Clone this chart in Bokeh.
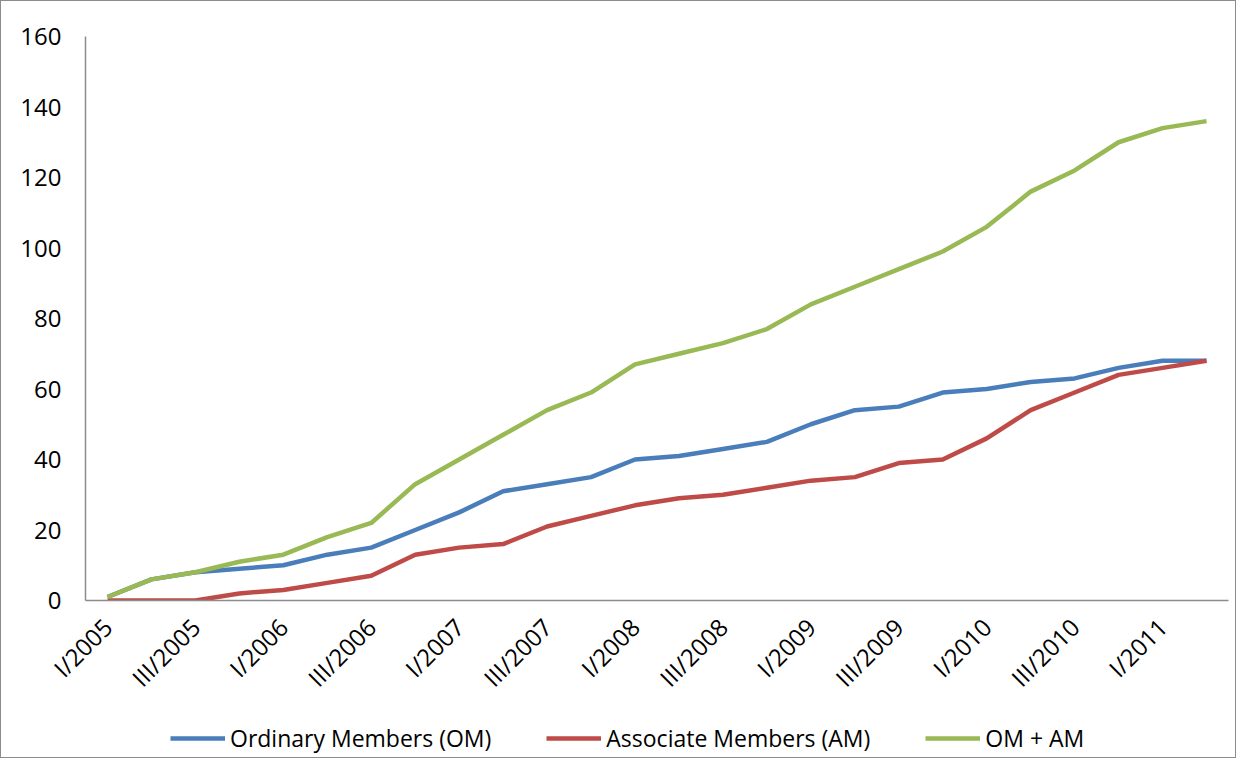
import numpy as np
from bokeh.plotting import figure
from bokeh.layouts import column
from bokeh.models import Range1d, FixedTicker, Legend, LegendItem
from bokeh.embed import file_html
from bokeh.resources import INLINE

quarters = [
    "I/2005", "II/2005", "III/2005", "IV/2005",
    "I/2006", "II/2006", "III/2006", "IV/2006",
    "I/2007", "II/2007", "III/2007", "IV/2007",
    "I/2008", "II/2008", "III/2008", "IV/2008",
    "I/2009", "II/2009", "III/2009", "IV/2009",
    "I/2010", "II/2010", "III/2010", "IV/2010",
    "I/2011", "II/2011",
]
ordinary = [1, 6, 8, 9, 10, 13, 15, 20, 25, 31, 33, 35, 40, 41, 43, 45, 50, 54, 55, 59, 60, 62, 63, 66, 68, 68]
associate = [0, 0, 0, 2, 3, 5, 7, 13, 15, 16, 21, 24, 27, 29, 30, 32, 34, 35, 39, 40, 46, 54, 59, 64, 66, 68]
total = [1, 6, 8, 11, 13, 18, 22, 33, 40, 47, 54, 59, 67, 70, 73, 77, 84, 89, 94, 99, 106, 116, 122, 130, 134, 136]
y_ticks = [0, 20, 40, 60, 80, 100, 120, 140, 160]
series_names = ["Ordinary Members (OM)", "Associate Members (AM)", "OM + AM"]
colors = ["#4A7EBB", "#BE4B48", "#98B954"]

FONT = "Open Sans"
W = 1234
x = list(range(len(quarters)))
series = [ordinary, associate, total]

p = figure(width=W, height=710, output_backend="svg", toolbar_location=None,
           x_range=Range1d(-0.5, len(quarters) - 0.5), y_range=Range1d(0, 160),
           min_border_left=84, min_border_right=7, min_border_top=35, min_border_bottom=111)
p.outline_line_color = None
p.xgrid.visible = False
p.ygrid.visible = False

shown = list(range(0, len(quarters), 2))
p.xaxis.ticker = FixedTicker(ticks=shown)
p.xaxis.major_label_overrides = {i: quarters[i] for i in shown}
p.xaxis.major_label_orientation = np.pi / 4
p.yaxis.ticker = FixedTicker(ticks=y_ticks)
for ax in (p.xaxis[0], p.yaxis[0]):
    ax.axis_line_color = "#8c8c8c"
    ax.axis_line_width = 1.5
    ax.major_tick_line_color = None
    ax.minor_tick_line_color = None
    ax.major_tick_out = 0
    ax.major_tick_in = 0
    ax.major_label_text_font = FONT
    ax.major_label_text_font_size = "24px"
    ax.major_label_text_color = "#000000"
p.yaxis.major_label_standoff = 24
p.xaxis.major_label_standoff = 22

for vals, c in zip(series, colors):
    p.line(x, vals, line_color=c, line_width=4.5, line_join="round")

# legend strip below the chart (its renderers are hidden; only the legend shows)
lg = figure(width=W, height=46, output_backend="svg", toolbar_location=None,
            x_range=Range1d(-0.5, len(quarters) - 0.5), y_range=Range1d(0, 160), min_border=0)
lg.axis.visible = False
lg.grid.visible = False
lg.outline_line_color = None
items = []
for name, vals, c in zip(series_names, series, colors):
    r = lg.line(x, vals, line_color=c, line_width=4.5, visible=False)
    items.append(LegendItem(label=name, renderers=[r]))
legend = Legend(items=items, orientation="horizontal", location=(85, 3),
                border_line_color=None, background_fill_alpha=0,
                glyph_width=55, glyph_height=20, label_standoff=5, spacing=55,
                padding=6, margin=0, label_text_font=FONT, label_text_font_size="23px",
                label_text_color="#000000")
lg.add_layout(legend, "center")

layout = column(p, lg, spacing=0, styles={"border": "1.5px solid #8c8c8c"})

open("out.html", "w").write(file_html(layout, INLINE))
